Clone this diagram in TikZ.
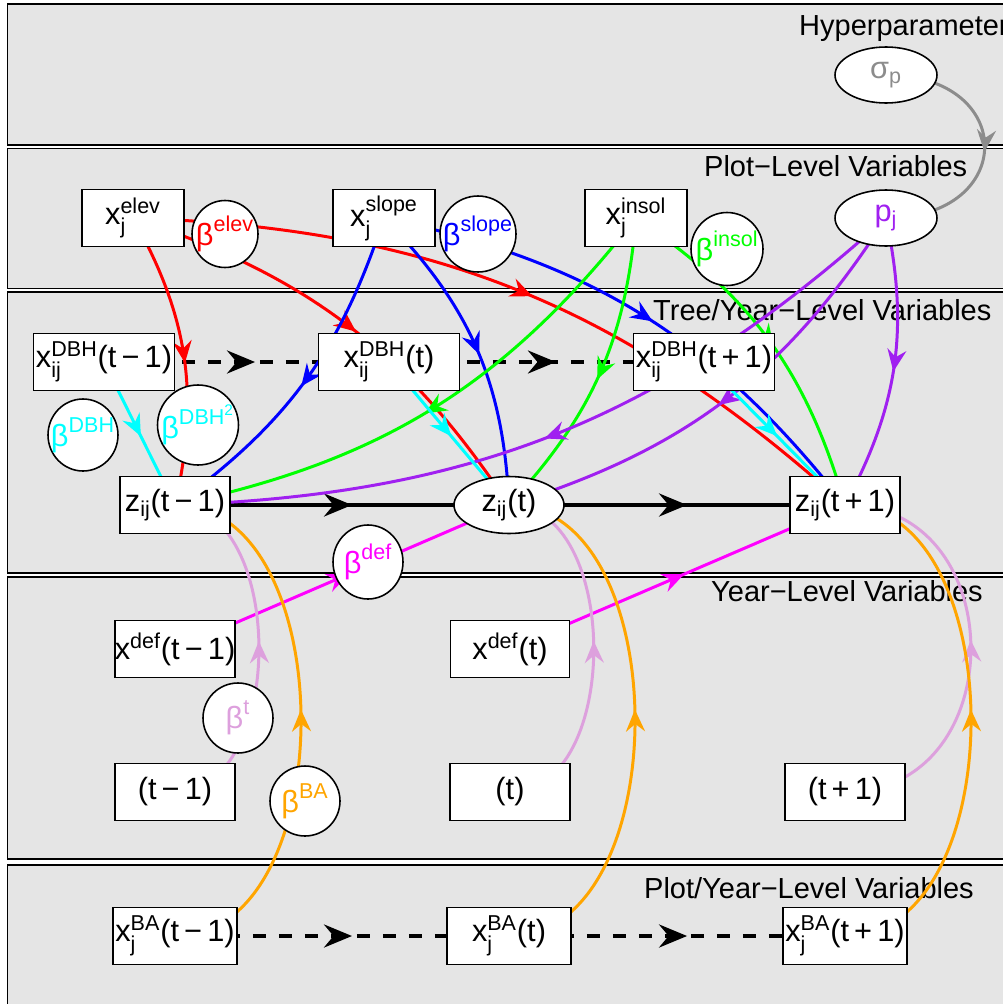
\documentclass[tikz,border=0pt]{standalone}
\usepackage{amsmath}
\usepackage{fontspec}
\setmainfont{Liberation Sans}
\usetikzlibrary{arrows.meta, shapes.geometric, decorations.markings}
\definecolor{panelgray}{HTML}{E5E5E5}
\definecolor{hypgray}{HTML}{8C8C8C}
\definecolor{elevred}{HTML}{FF0000}
\definecolor{slopeblue}{HTML}{0000FF}
\definecolor{insolgreen}{HTML}{00FF00}
\definecolor{plotpurple}{HTML}{A020F0}
\definecolor{dbhcyan}{HTML}{00FFFF}
\definecolor{defmagenta}{HTML}{FF00FF}
\definecolor{yearplum}{HTML}{DDA0DD}
\definecolor{baorange}{HTML}{FFA500}
\pgfdeclarelayer{panels}
\pgfdeclarelayer{links}
\pgfsetlayers{panels,links,main}
\newcommand{\zw}[1]{\makebox[0pt]{#1}}
\tikzset{
    panel/.style={draw=black, fill=panelgray, line width=1pt},
    level/.style={anchor=base west, font=\fontsize{16.5}{19}\selectfont},
    var/.style={draw, fill=white, line width=0.9pt, inner sep=0pt,
        minimum height=1.14cm, font=\fontsize{17.5}{20}\selectfont},
    latent/.style={var, ellipse},
    midarrow/.style={postaction={decorate, decoration={markings,
        mark=at position 0.52 with {\arrow{Stealth[length=0.44cm, width=0.38cm, inset=0.15cm]}}}}},
    bigarrow/.style={postaction={decorate, decoration={markings,
        mark=at position 0.53 with {\arrow{Stealth[length=0.56cm, width=0.46cm, inset=0.19cm]}}}}},
    link/.style={line width=1.7pt, midarrow},
    chain/.style={line width=2.3pt, black, bigarrow},
    lag/.style={chain, dash pattern=on 0.26cm off 0.26cm}
}

\begin{document}
\begin{tikzpicture}[x=0.02cm, y=-0.02cm]
    \useasboundingbox (0,0) rectangle (1003,1004);
    % Hyperparameters
    \node[latent, minimum width=2.04cm, minimum height=1.12cm, text=hypgray] (sig) at (886,75) {σ$_{\text{p}}$};
    % Plot-level variables
    \node[var, minimum width=2.04cm] (xelev) at (133,218) {$\text{x}_{\text{j}}^{\text{elev}}$};
    \node[latent, minimum width=1.32cm, minimum height=1.34cm, text=elevred] (belev) at (225,234) {\zw{$\text{β}^{\text{elev}}$}};
    \node[var, minimum width=2.04cm] (xslope) at (384,218) {$\text{x}_{\text{j}}^{\text{slope}}$};
    \node[latent, minimum width=1.52cm, minimum height=1.52cm, text=slopeblue] (bslope) at (478,234) {\zw{$\text{β}^{\text{slope}}$}};
    \node[var, minimum width=2.04cm] (xinsol) at (636,218) {$\text{x}_{\text{j}}^{\text{insol}}$};
    \node[latent, minimum width=1.44cm, minimum height=1.46cm, text=insolgreen] (binsol) at (727,249) {\zw{$\text{β}^{\text{insol}}$}};
    \node[latent, minimum width=2.04cm, minimum height=1.12cm, text=plotpurple] (pj) at (886,218) {p$_{\text{j}}$};
    % Tree/year-level variables
    \node[var, minimum width=2.82cm] (dbh1) at (104,362) {$\text{x}_{\text{ij}}^{\text{DBH}}$(t\,−\,1)};
    \node[var, minimum width=2.82cm] (dbh2) at (389,362) {$\text{x}_{\text{ij}}^{\text{DBH}}$(t)};
    \node[var, minimum width=2.82cm] (dbh3) at (704,362) {$\text{x}_{\text{ij}}^{\text{DBH}}$(t\,+\,1)};
    \node[latent, minimum width=1.4cm, minimum height=1.44cm, text=dbhcyan] (bdbh) at (83,435) {\zw{$\text{β}^{\text{DBH}}$}};
    \node[latent, minimum width=1.62cm, minimum height=1.6cm, text=dbhcyan] (bdbhsq) at (198,425) {\zw{$\text{β}^{\text{DBH}^{\text{2}}}$}};
    \node[var, minimum width=2.2cm] (z1) at (175,505) {z$_{\text{ij}}$(t\,−\,1)};
    \node[latent, minimum width=2.2cm] (z2) at (509,505) {z$_{\text{ij}}$(t)};
    \node[var, minimum width=2.2cm] (z3) at (845,505) {z$_{\text{ij}}$(t\,+\,1)};
    \node[latent, minimum width=1.4cm, minimum height=1.48cm, text=defmagenta] (bdef) at (368,562) {\zw{$\text{β}^{\text{def}}$}};
    % Year-level variables
    \node[var, minimum width=2.38cm] (xdef1) at (175,649) {x$^{\text{def}}$(t\,−\,1)};
    \node[var, minimum width=2.38cm] (xdef2) at (510,649) {x$^{\text{def}}$(t)};
    \node[latent, minimum width=1.4cm, minimum height=1.4cm, text=yearplum] (bt) at (238,718) {\zw{$\text{β}^{\text{t}}$}};
    \node[var, minimum width=2.4cm] (yr1) at (175,792) {(t\,−\,1)};
    \node[var, minimum width=2.4cm] (yr2) at (510,792) {(t)};
    \node[var, minimum width=2.4cm] (yr3) at (845,792) {(t\,+\,1)};
    \node[latent, minimum width=1.4cm, minimum height=1.4cm, text=baorange] (bba) at (305,801) {\zw{$\text{β}^{\text{BA}}$}};
    % Plot/year-level variables
    \node[var, minimum width=2.48cm] (xba1) at (175,936) {$\text{x}_{\text{j}}^{\text{BA}}$(t\,−\,1)};
    \node[var, minimum width=2.48cm] (xba2) at (509,936) {$\text{x}_{\text{j}}^{\text{BA}}$(t)};
    \node[var, minimum width=2.48cm] (xba3) at (845,936) {$\text{x}_{\text{j}}^{\text{BA}}$(t\,+\,1)};

    \begin{pgfonlayer}{panels}
        \draw[panel] (7.5,4) rectangle (1015,145);
        \draw[panel] (7.5,148.5) rectangle (1015,288.5);
        \draw[panel] (7.5,292) rectangle (1015,573);
        \draw[panel] (7.5,577) rectangle (1015,859);
        \draw[panel] (7.5,865) rectangle (1015,1015);
        \node[level] (lhyp) at (793,35) {Hyperparameter};
        \node[level] (lplot) at (698,176) {Plot−Level Variables};
        \node[level] (ltree) at (647,320) {Tree/Year−Level Variables};
        \node[level] (lyear) at (705,601) {Year−Level Variables};
        \node[level] (lplotyear) at (638,898) {Plot/Year−Level Variables};
    \end{pgfonlayer}

    \begin{pgfonlayer}{links}
        \draw[link, hypgray] (sig.center) to[bend left=90, looseness=2.36] (pj.center);
        % lagged states
        \draw[lag] (dbh1.center) -- (dbh2.center);
        \draw[lag] (dbh2.center) -- (dbh3.center);
        \draw[chain] (z1.center) -- (z2.center);
        \draw[chain] (z2.center) -- (z3.center);
        \draw[lag] (xba1.center) -- (xba2.center);
        \draw[lag] (xba2.center) -- (xba3.center);
        % plot-level covariates
        \draw[link, elevred] (xelev.center) to[bend left=21] (z1.center);
        \draw[link, elevred] (xelev.center) to[bend left=19] (z2.center);
        \draw[link, elevred] (xelev.center) to[bend left=20] (z3.center);
        \draw[link, slopeblue] (xslope.center) to[bend left=18] (z1.center);
        \draw[link, slopeblue] (xslope.center) to[bend left=21] (z2.center);
        \draw[link, slopeblue] (xslope.center) to[bend left=20] (z3.center);
        \draw[link, insolgreen] (xinsol.center) to[bend left=20] (z1.center);
        \draw[link, insolgreen] (xinsol.center) to[bend left=19] (z2.center);
        \draw[link, insolgreen] (xinsol.center) to[bend left=20] (z3.center);
        \draw[link, plotpurple] (pj.center) to[bend left=20] (z1.center);
        \draw[link, plotpurple] (pj.center) to[bend left=20] (z2.center);
        \draw[link, plotpurple] (pj.center) to[bend left=20] (z3.center);
        % tree size
        \draw[link, dbhcyan] (dbh1.center) -- (z1.center);
        \draw[link, dbhcyan] (dbh2.center) -- (z2.center);
        \draw[link, dbhcyan] (dbh3.center) -- (z3.center);
        % defoliation
        \draw[link, defmagenta] (xdef1.center) -- (z2.center);
        \draw[link, defmagenta] (xdef2.center) -- (z3.center);
        % year and basal area
        \draw[link, yearplum] (yr1.center) to[bend right=90] (z1.center);
        \draw[link, yearplum] (yr2.center) to[bend right=90] (z2.center);
        \draw[link, yearplum] (yr3.center) to[bend right=90, looseness=1.5] (z3.center);
        \draw[link, baorange] (xba1.center) to[bend right=90] (z1.center);
        \draw[link, baorange] (xba2.center) to[bend right=90] (z2.center);
        \draw[link, baorange] (xba3.center) to[bend right=90] (z3.center);
    \end{pgfonlayer}
\end{tikzpicture}
\end{document}
